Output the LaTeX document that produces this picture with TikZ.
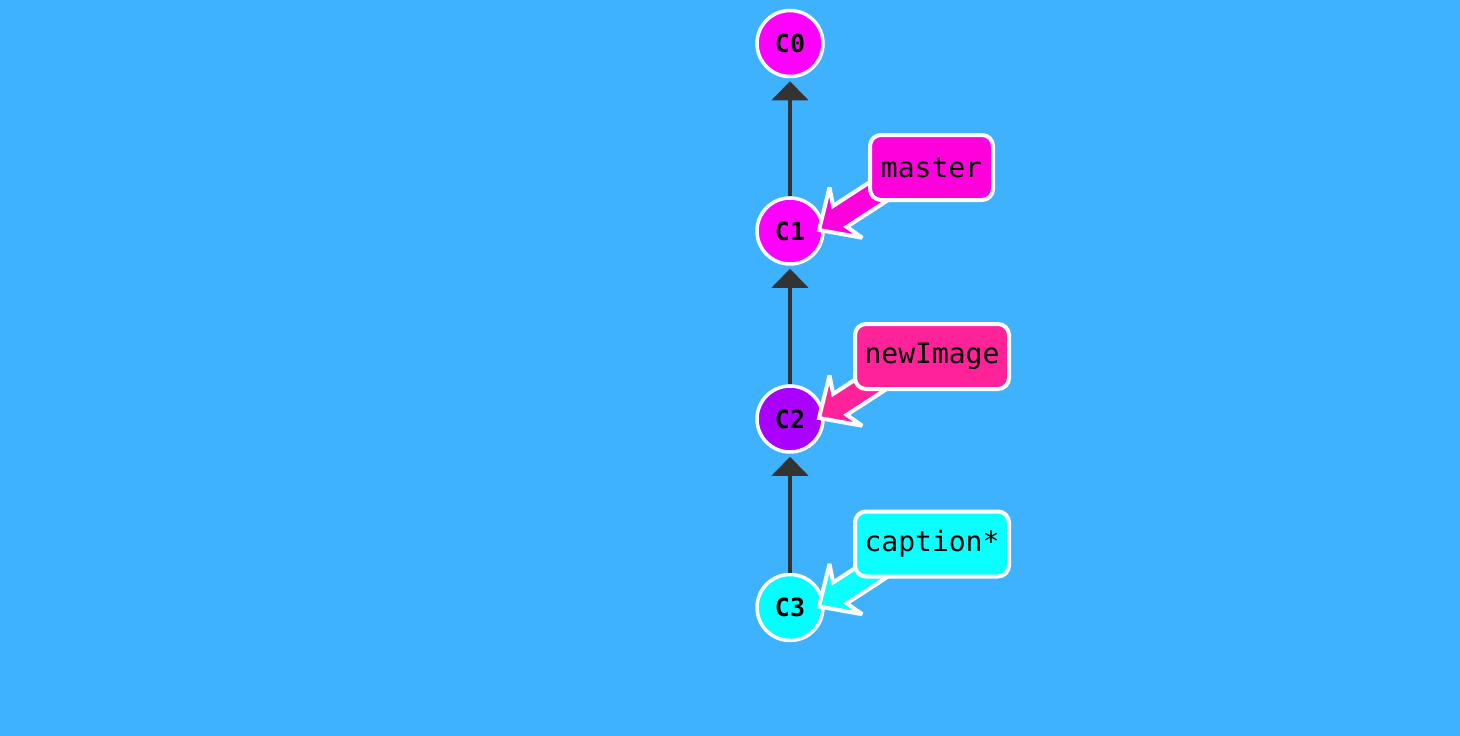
\documentclass[tikz,border=0pt]{standalone}
\usepackage{fontspec}
\newfontfamily\monofont{DejaVu Sans Mono}
\usetikzlibrary{arrows.meta}
\definecolor{bgcol}{RGB}{62,178,255}
\definecolor{magcol}{RGB}{255,0,255}
\definecolor{purpcol}{RGB}{170,0,255}
\definecolor{cyancol}{RGB}{0,255,255}
\definecolor{mastercol}{RGB}{255,0,221}
\definecolor{newimgcol}{RGB}{255,34,153}
\definecolor{captcol}{RGB}{10,255,255}
\definecolor{edgecol}{RGB}{51,51,51}
\tikzset{
  commit/.style={circle, draw=white, line width=3.5pt, minimum size=66pt, inner sep=0pt,
    font=\monofont\bfseries\fontsize{25}{25}\selectfont},
  branchbox/.style={rectangle, rounded corners=11pt, draw=white, line width=4pt,
    minimum height=65pt, font=\monofont\fontsize{28}{28}\selectfont, inner xsep=0pt},
  parentedge/.style={draw=edgecol, line width=4pt, -{Triangle[length=19pt,width=36pt]}, shorten >=3pt},
  fatarrow/.pic={
    \draw[white, line width=4pt, fill=#1, line join=miter, miter limit=2.5]
      (0,0) -- (32,30) -- (25,12.5) -- (95,12.5) -- (95,-12.5) -- (25,-12.5) -- (32,-30) -- cycle;
  }
}
\begin{document}
\begin{tikzpicture}[x=1pt,y=-1pt]
\fill[bgcol] (0,0) rectangle (1460,736);
\useasboundingbox (0,0) rectangle (1460,736);

\node[commit, fill=magcol] (C0) at (790,43.5) {C0};
\node[commit, fill=magcol] (C1) at (790,231) {C1};
\node[commit, fill=purpcol] (C2) at (790,419) {C2};
\node[commit, fill=cyancol] (C3) at (790,607.5) {C3};

\draw[parentedge] (C1) -- (C0);
\draw[parentedge] (C2) -- (C1);
\draw[parentedge] (C3) -- (C2);

\coordinate (tipM) at ([shift={(29,-1)}]C1.center);
\coordinate (tipN) at ([shift={(29,-1)}]C2.center);
\coordinate (tipC) at ([shift={(29,-1)}]C3.center);

\pic[rotate=33] at (tipM) {fatarrow=mastercol};
\pic[rotate=33] at (tipN) {fatarrow=newimgcol};
\pic[rotate=33] at (tipC) {fatarrow=captcol};

\node[branchbox, fill=mastercol, minimum width=123pt] (master) at (931.5,167.5) {master};
\node[branchbox, fill=newimgcol, minimum width=154pt] (newImage) at (932,356.5) {newImage};
\node[branchbox, fill=captcol, minimum width=154pt] (caption) at (932,544) {caption*};
\end{tikzpicture}
\end{document}
